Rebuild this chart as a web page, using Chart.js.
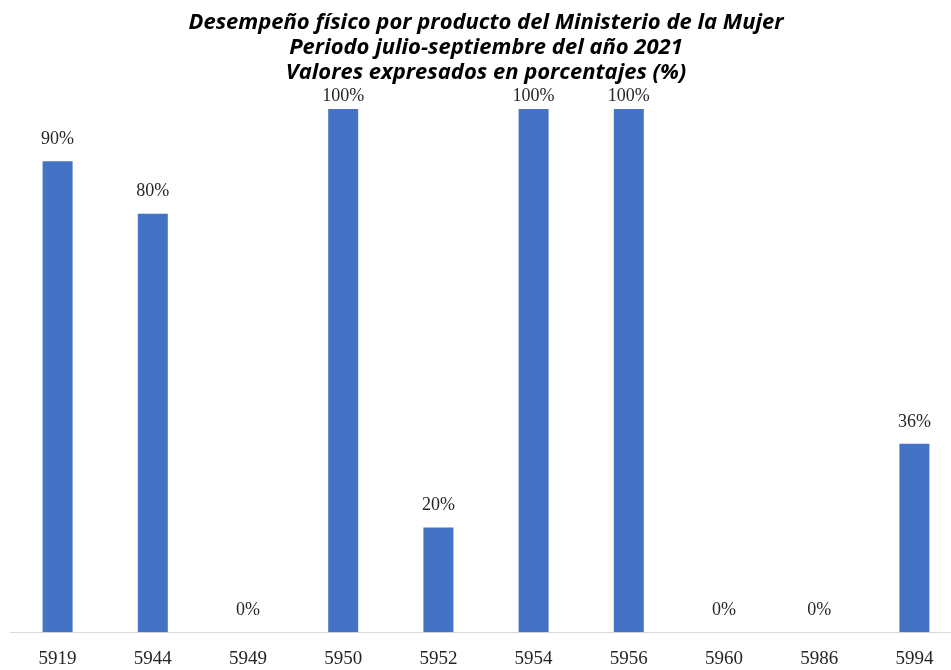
<!DOCTYPE html>
<html lang="es">
<head>
<meta charset="utf-8">
<title>Desempeño físico por producto</title>
<script src="https://cdn.jsdelivr.net/npm/chart.js@4/dist/chart.umd.min.js"></script>
<style>
    html, body { margin: 0; padding: 0; background: #ffffff; overflow: hidden; }
    canvas { display: block; }
</style>
</head>
<body>
<canvas id="desempenoChart" width="962" height="670"></canvas>
<script>
// Productos y porcentaje de desempeño físico
const productos = ['5919', '5944', '5949', '5950', '5952', '5954', '5956', '5960', '5986', '5994'];
const desempeno = [90, 80, 0, 100, 20, 100, 100, 0, 0, 36];
const tituloLineas = [
    'Desempeño físico por producto del Ministerio de la Mujer',
    'Periodo julio-septiembre del año 2021',
    'Valores expresados en porcentajes (%)'
];

// Etiquetas de valor encima de cada barra (sin salirse por arriba del área)
const etiquetasValor = {
    id: 'etiquetasValor',
    afterDatasetsDraw(chart) {
        const ctx = chart.ctx;
        const meta = chart.getDatasetMeta(0);
        const tope = chart.chartArea.top - 13;
        ctx.save();
        ctx.font = '18px "Liberation Serif", "DejaVu Serif", serif';
        ctx.fillStyle = '#262626';
        ctx.textAlign = 'center';
        ctx.textBaseline = 'middle';
        meta.data.forEach((bar, i) => {
            const y = Math.max(bar.y - 22, tope);
            ctx.fillText(desempeno[i] + '%', bar.x, y);
        });
        ctx.restore();
    }
};

const ctx = document.getElementById('desempenoChart');

new Chart(ctx, {
    type: 'bar',
    data: {
        labels: productos,
        datasets: [{
            data: desempeno,
            backgroundColor: '#4472C4',
            borderWidth: 0,
            categoryPercentage: 1,
            barPercentage: 0.315
        }]
    },
    options: {
        responsive: false,
        animation: false,
        layout: {
            padding: { left: 10, right: 0, top: 0, bottom: -15 }
        },
        plugins: {
            legend: { display: false },
            tooltip: { enabled: false },
            title: {
                display: true,
                text: tituloLineas,
                color: '#000000',
                font: {
                    family: '"Open Sans", Lato, sans-serif',
                    size: 22,
                    weight: 'bold',
                    style: 'italic',
                    lineHeight: '25px'
                },
                padding: { top: 10, bottom: 24 }
            }
        },
        scales: {
            x: {
                grid: { display: false, drawTicks: false },
                border: { display: true, color: '#D9D9D9', width: 1 },
                ticks: {
                    padding: 15,
                    color: '#262626',
                    font: {
                        family: '"Liberation Serif", "DejaVu Serif", serif',
                        size: 19
                    }
                }
            },
            y: {
                display: false,
                min: 0,
                max: 100
            }
        }
    },
    plugins: [etiquetasValor]
});
</script>
</body>
</html>
